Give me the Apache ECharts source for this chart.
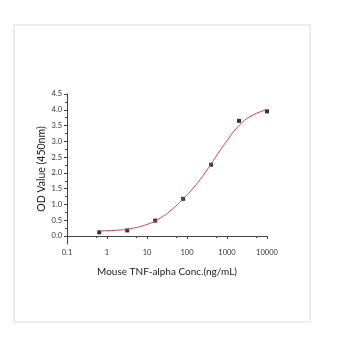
<!DOCTYPE html>
<html><head><meta charset="utf-8">
<script src="https://cdn.jsdelivr.net/npm/echarts@6/dist/echarts.min.js"></script>
<style>html,body{margin:0;padding:0;background:#fff}#c{width:358px;height:338px}</style>
</head><body><div id="c"></div>
<script>
var concentrations = [0.64, 3.2, 16, 80, 400, 2000, 10000];
var odValues = [0.12, 0.18, 0.49, 1.18, 2.26, 3.65, 3.95];
var fitConc = [0.64, 1, 2, 4, 10, 20, 40, 80, 150, 300, 600, 1000, 2000, 4000, 10000];
var fitOD = [0.16, 0.17, 0.19, 0.24, 0.37, 0.55, 0.82, 1.18, 1.55, 2.05, 2.62, 3.02, 3.50, 3.80, 4.01];
var yTicks = [0, 0.5, 1, 1.5, 2, 2.5, 3, 3.5, 4, 4.5];
var xTicks = [0.1, 1, 10, 100, 1000, 10000];

var font = 'Lato';
var axisColor = '#444';
var chart = echarts.init(document.getElementById('c'), null, {renderer: 'canvas'});
chart.setOption({
  animation: false,
  graphic: [{type: 'rect', shape: {x: 14, y: 25, width: 296, height: 297}, style: {fill: 'none', stroke: '#ececec', lineWidth: 2}}],
  grid: [
    {left: 67, right: 91, top: 94, bottom: 94},
    {left: 67, right: 91, top: 94, bottom: 102}
  ],
  xAxis: [
    {type: 'log', gridIndex: 0, logBase: 10, min: xTicks[0], max: xTicks[xTicks.length - 1],
     axisLine: {lineStyle: {color: axisColor, width: 1}},
     axisTick: {show: true, length: 3, lineStyle: {color: axisColor}},
     minorTick: {show: true, splitNumber: 2, length: 2, lineStyle: {color: axisColor}},
     splitLine: {show: false},
     axisLabel: {fontFamily: font, fontSize: 7.5, color: '#333', margin: 5,
       formatter: function (v) { return String(+v.toPrecision(6)); }},
     name: 'Mouse TNF-alpha Conc.(ng/mL)', nameLocation: 'middle', nameGap: 23,
     nameTextStyle: {fontFamily: font, fontSize: 10, color: '#222'}},
    {type: 'value', gridIndex: 1, show: false, min: 0, max: 1}
  ],
  yAxis: [
    {type: 'value', gridIndex: 0, min: -0.25, max: 4.5,
     axisLine: {show: true, lineStyle: {color: axisColor, width: 1}},
     axisTick: {show: false}, axisLabel: {show: false}, splitLine: {show: false},
     name: 'OD Value (450nm)', nameLocation: 'middle', nameGap: 20, nameRotate: 90,
     nameTextStyle: {fontFamily: font, fontSize: 10.5, color: '#222'}},
    {type: 'value', gridIndex: 1, min: yTicks[0], max: yTicks[yTicks.length - 1], interval: 0.5,
     axisLine: {show: false},
     axisTick: {show: true, length: 3, lineStyle: {color: axisColor}},
     minorTick: {show: true, splitNumber: 2, length: 2, lineStyle: {color: axisColor}},
     splitLine: {show: false},
     axisLabel: {fontFamily: font, fontSize: 7.5, color: '#333', margin: 5,
       formatter: function (v) { return v.toFixed(1); }}}
  ],
  series: [
    {type: 'line', xAxisIndex: 0, yAxisIndex: 0, smooth: true, showSymbol: false,
     data: fitConc.map(function (c, i) { return [c, fitOD[i]]; }),
     lineStyle: {color: '#cf4040', width: 1}},
    {type: 'scatter', xAxisIndex: 0, yAxisIndex: 0, symbol: 'rect', symbolSize: 4,
     itemStyle: {color: '#000'},
     data: concentrations.map(function (c, i) { return [c, odValues[i]]; })}
  ]
});
</script></body></html>
